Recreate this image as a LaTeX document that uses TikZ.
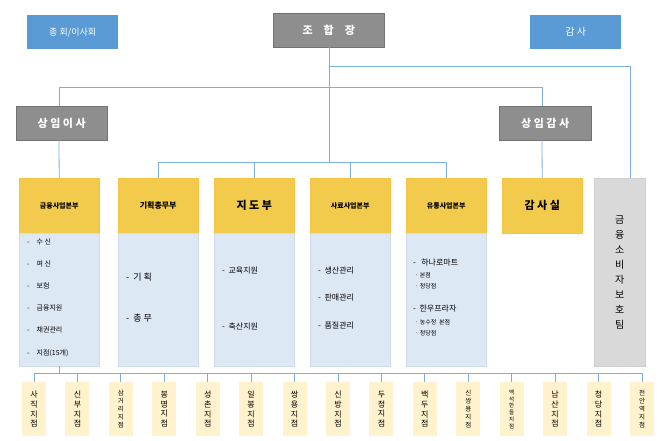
\documentclass[tikz,border=0pt]{standalone}
\usepackage{fontspec}
\setmainfont{Noto Sans CJK KR}
\begin{document}
\begin{tikzpicture}[x=1pt,y=-1pt,
 ln/.style={draw=lnc,line width=0.8pt},
 bx/.style={anchor=north west,inner sep=0,align=center},
 blue/.style={bx,fill=bluec,text=white,font=\fontsize{9}{10}\selectfont},
 gr/.style={bx,fill=grc,draw=grc!80!black,text=white,font=\bfseries\fontsize{11}{12}\selectfont},
 hd/.style={bx,fill=yel,draw=yel!90!orange,font=\bfseries\fontsize{7}{8}\selectfont},
 bd/.style={bx,fill=bodyc,draw=bodyc!95!black},
 it/.style={anchor=west,inner sep=0,font=\fontsize{7}{8}\selectfont},
 br/.style={anchor=north,inner sep=0,fill=brc,minimum width=24pt,minimum height=54pt,align=center}]
\definecolor{lnc}{HTML}{7EAEE0}
\definecolor{bluec}{HTML}{5B9BD5}
\definecolor{grc}{HTML}{8E8E8E}
\definecolor{yel}{HTML}{F2CB4C}
\definecolor{bodyc}{HTML}{DDE8F5}
\definecolor{brc}{HTML}{FFF2CC}
\definecolor{lgr}{HTML}{D9D9D9}
\useasboundingbox (0,0) rectangle (661,440);
% top
\node[blue,minimum width=91pt,minimum height=34pt] (gm) at (27,15) {총 회/이사회};
\node[gr,minimum width=111pt,minimum height=34pt] (ceo) at (273,13) {조\quad 합\quad 장};
\node[blue,minimum width=91pt,minimum height=34pt,font=\fontsize{10}{11}\selectfont] (aud) at (530,15) {감 사};
\node[gr,minimum width=91pt,minimum height=34pt] (sd) at (16,106) {상 임 이 사};
\node[gr,minimum width=92pt,minimum height=34pt] (sa) at (499,106) {상 임 감 사};
% headers
\node[hd,minimum width=80pt,minimum height=55pt] (h1) at (19,178) {금융사업본부};
\node[hd,minimum width=80pt,minimum height=55pt,font=\bfseries\fontsize{8}{9}\selectfont] (h2) at (118,178) {기획총무부};
\node[hd,minimum width=80pt,minimum height=55pt,font=\bfseries\fontsize{11}{12}\selectfont] (h3) at (214,178) {지 도 부};
\node[hd,minimum width=80pt,minimum height=55pt] (h4) at (310,178) {사료사업본부};
\node[hd,minimum width=80pt,minimum height=55pt] (h5) at (406,178) {유통사업본부};
\node[hd,minimum width=80pt,minimum height=55pt,font=\bfseries\fontsize{11}{12}\selectfont] (h6) at (502,178) {감 사 실};
\node[bx,fill=lgr,draw=lgr!95!black,minimum width=51pt,minimum height=188pt,font=\fontsize{10}{15}\selectfont] (cp) at (594,178) {금\\융\\소\\비\\자\\보\\호\\팀};
% bodies
\node[bd,minimum width=80pt,minimum height=133pt] (b1) at (19,233) {};
\node[bd,minimum width=80pt,minimum height=133pt] (b2) at (118,233) {};
\node[bd,minimum width=80pt,minimum height=133pt] (b3) at (214,233) {};
\node[bd,minimum width=80pt,minimum height=133pt] (b4) at (310,233) {};
\node[bd,minimum width=80pt,minimum height=133pt] (b5) at (406,233) {};
\foreach \y/\t [count=\i] in {242/수 신,264/여 신,286/보험/카드,308/금융지원,330/채권관리,353/지점(15개)}{
 \node[it] (t1\i) at (27,\y) {-\quad \t};}
\node[it,font=\fontsize{9}{10}\selectfont] (t21) at (126,277) {-\ \ 기 획};
\node[it,font=\fontsize{9}{10}\selectfont] (t22) at (126,318) {-\ \ 총 무};
\node[it,font=\fontsize{8}{9}\selectfont] (t31) at (222,270) {-\ \ 교육지원};
\node[it,font=\fontsize{8}{9}\selectfont] (t32) at (222,326) {-\ \ 축산지원};
\node[it,font=\fontsize{8}{9}\selectfont] (t41) at (318,270) {-\ \ 생산관리};
\node[it,font=\fontsize{8}{9}\selectfont] (t42) at (318,297) {-\ \ 판매관리};
\node[it,font=\fontsize{8}{9}\selectfont] (t43) at (318,325) {-\ \ 품질관리};
\node[it,font=\fontsize{8}{9}\selectfont] (t51) at (413,262) {-\ \ \ 하나로마트};
\node[it,font=\fontsize{6}{7}\selectfont] (t52) at (415,275) {· 본점};
\node[it,font=\fontsize{6}{7}\selectfont] (t53) at (415,286) {· 청당점};
\node[it,font=\fontsize{8}{9}\selectfont] (t54) at (413,309) {-\ \ 한우프라자};
\node[it,font=\fontsize{6}{7}\selectfont] (t55) at (415,322) {· 농수정\ \ 본점};
\node[it,font=\fontsize{6}{7}\selectfont] (t56) at (415,333) {· 청당점};
% connectors
\coordinate (c1) at (329,66); \coordinate (c2) at (630,66);
\coordinate (c4) at (59,87); \coordinate (c5) at (542,87);
\coordinate (c6) at (329,162);
\draw[ln] (ceo.south -| c1) -- (c6);
\draw[ln] (c1) -- (c2) -- (cp.north -| c2);
\draw[ln] (c4) -- (c5) -- (sa.north -| c5);
\draw[ln] (c4) -- (sd.north -| c4);
\draw[ln] (sd.south -| c4) -- (h1.north);
\draw[ln] (sa.south -| c5) -- (h6.north);
\draw[ln] (h2.north |- c6) -- (h5.north |- c6);
\foreach \n in {h2,h3,h4,h5}{\draw[ln] (\n.north |- c6) -- (\n.north);}
% branches
\coordinate (bl) at (34,373); \coordinate (brr) at (642,373);
\draw[ln] (b1.south) -- (b1.south |- bl);
\draw[ln] (bl) -- (brr);
\foreach \t/\f/\g [count=\i] in {사\\직\\지\\점/8/9.6,신\\부\\지\\점/8/9.6,삼\\거\\리\\지\\점/6.5/8,봉\\명\\지\\점/8/9.6,성\\촌\\지\\점/8/9.6,일\\봉\\지\\점/8/9.6,쌍\\용\\지\\점/8/9.6,신\\방\\지\\점/8/9.6,두\\정\\지\\점/8/9.6,백\\두\\지\\점/8/9.6,신\\쌍\\용\\지\\점/6.5/8,백\\석\\한\\들\\지\\점/5.5/6.8,남\\산\\지\\점/8/9.6,청\\당\\지\\점/8/9.6,천\\안\\역\\지\\점/6.5/8}{
 \pgfmathsetmacro{\xx}{34+(\i-1)*43.43}
 \coordinate (k\i) at (\xx,373);
 \node[br,font=\fontsize{\f}{\g}\selectfont] (br\i) at (\xx,382) {\t};
 \draw[ln] (k\i) -- (br\i.north);
}
\end{tikzpicture}
\end{document}
